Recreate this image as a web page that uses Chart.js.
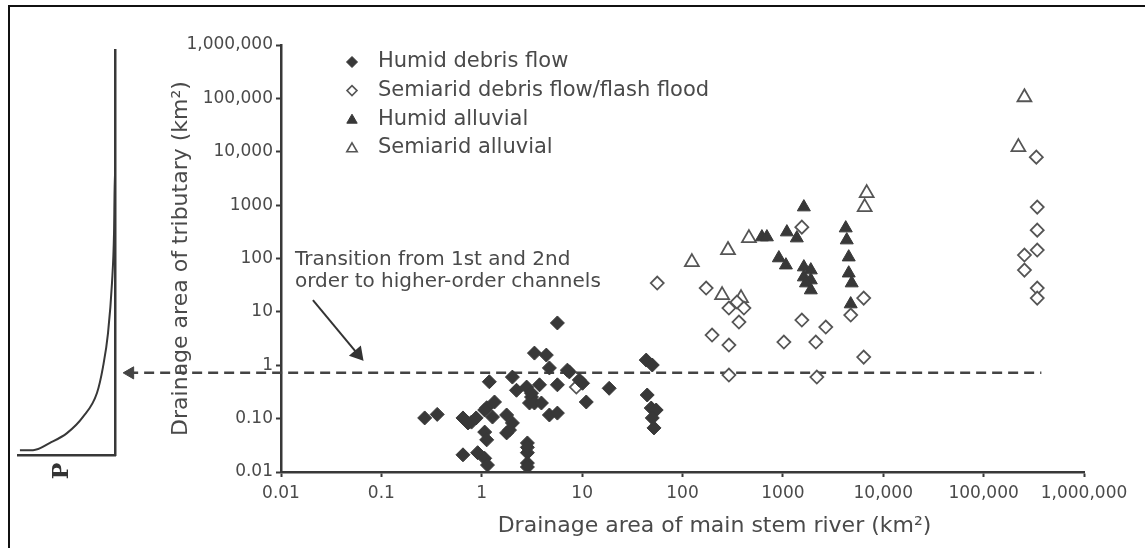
<!DOCTYPE html>
<html><head><meta charset="utf-8">
<script src="https://cdn.jsdelivr.net/npm/chart.js@4.4.1/dist/chart.umd.min.js"></script>
<style>
html,body{margin:0;padding:0;background:#fff;}
#wrap{position:relative;width:1145px;height:548px;overflow:hidden;background:#fff;}
#main,#inset{position:absolute;left:0;top:0;}
#frame{position:absolute;left:8px;top:5px;width:1160px;height:560px;border-left:2px solid #111;border-top:2px solid #111;pointer-events:none;}
</style></head><body>
<div id="wrap">
<canvas id="main" width="1145" height="548"></canvas>
<canvas id="inset" width="140" height="548"></canvas>
<div id="frame"></div>
</div>
<script>
// ---------- data ----------
const seriesNames = ['Humid debris flow', 'Semiarid debris flow/flash flood', 'Humid alluvial', 'Semiarid alluvial'];

const humidDebrisX = [0.27,0.36,0.65,0.73,0.79,0.88,1.19,1.12,1.07,1.34,1.28,1.07,1.12,0.65,0.91,1.07,1.14,1.77,2.02,1.77,1.89,2.02,2.22,2.8,3.13,3.13,3.35,3.93,3.76,2.99,2.85,2.85,2.85,2.85,2.85,3.35,4.4,4.72,5.67,5.67,4.72,5.67,7.46,7.13,9.38,10.1,11.0,18.6,43.5,50,44.5,48.8,54.7,50,52];
const humidDebrisY = [0.103,0.12,0.103,0.083,0.086,0.103,0.49,0.16,0.145,0.205,0.107,0.056,0.04,0.021,0.023,0.018,0.0135,0.117,0.083,0.054,0.061,0.60,0.34,0.39,0.254,0.30,0.196,0.196,0.43,0.196,0.035,0.023,0.0147,0.0124,0.029,1.69,1.55,0.89,6.2,0.43,0.117,0.127,0.75,0.81,0.53,0.46,0.205,0.37,1.25,1.01,0.277,0.158,0.145,0.103,0.067];

const semiDebrisX = [56,172,197,290,349,409,365,290,290,1545,1545,1023,2128,2675,2178,4742,6385,6385,8.76,335000,342000,342000,342000,255000,255000,342000,342000];
const semiDebrisY = [34.6,27.9,3.68,11.8,15.3,11.8,6.44,2.39,0.655,387,7.02,2.72,2.72,5.19,0.60,8.71,18.1,1.42,0.39,7930,918,340,144,116,60.6,27.9,18.1];

const humidAlluvialX = [618,693,1096,1377,1618,912,1072,1618,1898,1618,1898,1700,1898,4230,4330,4530,4530,4850,4740];
const humidAlluvialY = [252,252,312,241,918,102,75,69,60.6,44.8,39.4,34.6,25.6,371,221,106,53,34.6,14];

const semiAlluvialX = [124,284,459,248,383,6840,6530,255000,222000];
const semiAlluvialY = [85.6,144,241,20.6,18.1,1680,918,105000,12200];

// transition line (dashed) and annotation arrow, in data units
const transitionX = [0.0003, 376000];
const transitionY = [0.72, 0.72];
const arrowX = [0.0208, 0.0582];
const arrowY = [16.6, 1.62];
const noteLines = ['Transition from 1st and 2nd', 'order to higher-order channels'];

// tick values / labels
const xTickValues = [0.01,0.1,1,10,100,1000,10000,100000,1000000];
const xTickLabels = ['0.01','0.1','1','10','100','1000','10,000','100,000','1,000,000'];
const yTickValues = [0.01,0.1,1,10,100,1000,10000,100000,1000000];
const yTickLabels = ['0.01','0.10','1','10','100','1000','10,000','100,000','1,000,000'];
const xTitle = 'Drainage area of main stem river (km²)';
const yTitle = 'Drainage area of tributary (km²)';

// inset schematic curve (P vs relative position)
const insetP     = [0.02,0.155,0.33,0.505,0.67,0.814,0.876,0.928,0.969,0.99,1.0,1.0];
const insetLevel = [0.012,0.012,0.03,0.054,0.094,0.153,0.217,0.301,0.425,0.548,0.711,1.0];
const insetLabel = 'P';

// ---------- styling ----------
const FONT = '"DejaVu Sans", "Liberation Sans", sans-serif';
const TEXT = '#4a4a4a';
const INK = '#383838';
const zip = (xs, ys) => xs.map((x, i) => ({x: x, y: ys[i]}));

const legendPlugin = {
  id: 'customLegend',
  afterDraw(chart) {
    const ctx = chart.ctx;
    const specs = [
      {style:'rectRot', r:5.5, fill:INK, stroke:INK, bw:1},
      {style:'rectRot', r:5, fill:'#fff', stroke:'#555', bw:1.6},
      {style:'triangle', r:6, fill:INK, stroke:INK, bw:1},
      {style:'triangle', r:6, fill:'#fff', stroke:'#555', bw:1.6}
    ];
    ctx.save();
    seriesNames.forEach((name, i) => {
      const y = 62 + i * 28.6;
      const s = specs[i];
      ctx.fillStyle = s.fill; ctx.strokeStyle = s.stroke; ctx.lineWidth = s.bw;
      Chart.helpers.drawPoint(ctx, {pointStyle: s.style, radius: s.r, rotation: 0, borderWidth: s.bw}, 352, y + (s.style === 'triangle' ? 1 : 0));
      ctx.fillStyle = TEXT;
      ctx.font = '21px ' + FONT;
      ctx.textAlign = 'left'; ctx.textBaseline = 'middle';
      ctx.fillText(name, 378, y);
    });
    ctx.restore();
  }
};

const notePlugin = {
  id: 'notes',
  afterDatasetsDraw(chart) {
    const ctx = chart.ctx;
    const xs = chart.scales.x, ys = chart.scales.y, area = chart.chartArea;
    ctx.save();
    // arrowhead at left end of transition line
    const meta = chart.getDatasetMeta(4);
    const p0 = meta.data[0];
    ctx.fillStyle = '#444'; ctx.strokeStyle = '#444'; ctx.lineWidth = 1;
    Chart.helpers.drawPoint(ctx, {pointStyle:'triangle', radius:7, rotation:-90, borderWidth:1}, p0.x + 2, p0.y);
    // annotation text
    ctx.fillStyle = TEXT;
    ctx.font = '20px ' + FONT;
    ctx.textAlign = 'left'; ctx.textBaseline = 'middle';
    ctx.fillText(noteLines[0], 295, 260);
    ctx.fillText(noteLines[1], 295, 282);
    // x axis title
    ctx.font = '22px ' + FONT;
    ctx.textAlign = 'center';
    ctx.fillText(xTitle, (area.left + area.right) / 2 + 32, 526);
    ctx.restore();
  }
};

new Chart(document.getElementById('main'), {
  type: 'scatter',
  data: {
    datasets: [
      {label: seriesNames[0], data: zip(humidDebrisX, humidDebrisY), pointStyle:'rectRot', pointRadius:7, backgroundColor:INK, borderColor:INK, borderWidth:1, order:1},
      {label: seriesNames[1], data: zip(semiDebrisX, semiDebrisY), pointStyle:'rectRot', pointRadius:6.5, backgroundColor:'#fff', borderColor:'#555', borderWidth:1.8, order:1},
      {label: seriesNames[2], data: zip(humidAlluvialX, humidAlluvialY), pointStyle:'triangle', pointRadius:7.5, backgroundColor:INK, borderColor:INK, borderWidth:1, order:1},
      {label: seriesNames[3], data: zip(semiAlluvialX, semiAlluvialY), pointStyle:'triangle', pointRadius:8, backgroundColor:'#fff', borderColor:'#555', borderWidth:1.8, order:1},
      {label: 'transition', type:'line', data: zip(transitionX, transitionY), borderColor:'#444', borderWidth:2.5, borderDash:[10,6], pointRadius:0, clip:false, order:5},
      {label: 'arrow', type:'line', data: zip(arrowX, arrowY), borderColor:'#333', borderWidth:2, pointRadius:[0,7], pointStyle:'triangle', pointRotation:140, pointBackgroundColor:'#333', pointBorderColor:'#333', clip:false, order:5}
    ]
  },
  options: {
    responsive: false, animation: false, devicePixelRatio: 1,
    layout: {padding: {left:150, right:61, top:45, bottom:9}},
    plugins: {legend: {display:false}, tooltip: {enabled:false}},
    scales: {
      x: {
        type:'logarithmic', min:0.01, max:1000000,
        afterBuildTicks: s => { s.ticks = xTickValues.map(v => ({value: v})); },
        afterFit: s => { s.height = 67; },
        ticks: {callback: (v, i) => xTickLabels[i], autoSkip:false, maxRotation:0, color:TEXT, font:{family:FONT, size:17}, padding:6},
        grid: {drawOnChartArea:false, drawTicks:true, tickLength:5, tickWidth:2, color:INK},
        border: {display:true, color:INK, width:2.5},
        title: {display:false}
      },
      y: {
        type:'logarithmic', min:0.01, max:1000000,
        afterBuildTicks: s => { s.ticks = yTickValues.map(v => ({value: v})); },
        afterFit: s => { s.width = 131; },
        ticks: {callback: (v, i) => yTickLabels[i], autoSkip:false, color:TEXT, font:{family:FONT, size:17}, padding:3},
        grid: {drawOnChartArea:false, drawTicks:true, tickLength:5, tickWidth:2, color:INK},
        border: {display:true, color:INK, width:2.5},
        title: {display:true, text:yTitle, color:TEXT, font:{family:FONT, size:22}, padding:{top:18, bottom:0}}
      }
    }
  },
  plugins: [legendPlugin, notePlugin]
});

const pLabelPlugin = {
  id: 'pLabel',
  afterDraw(chart) {
    const ctx = chart.ctx;
    ctx.save();
    ctx.translate(62, 471);
    ctx.rotate(-Math.PI / 2);
    ctx.fillStyle = '#333';
    ctx.font = 'bold 22px "DejaVu Serif", serif';
    ctx.textAlign = 'center'; ctx.textBaseline = 'middle';
    ctx.fillText(insetLabel, 0, 0);
    ctx.restore();
  }
};

new Chart(document.getElementById('inset'), {
  type: 'scatter',
  data: {datasets: [{type:'line', data: zip(insetP, insetLevel), borderColor:INK, borderWidth:2, pointRadius:0, cubicInterpolationMode:'monotone', clip:false}]},
  options: {
    responsive:false, animation:false, devicePixelRatio:1,
    layout: {padding:{left:18, right:25, top:50, bottom:93}},
    plugins: {legend:{display:false}, tooltip:{enabled:false}},
    scales: {
      x: {type:'linear', min:0, max:1, ticks:{display:false}, grid:{display:false}, border:{display:true, color:INK, width:2.5}, afterFit: s => { s.height = 0; }},
      y: {type:'linear', position:'right', min:0, max:1, ticks:{display:false}, grid:{display:false}, border:{display:true, color:INK, width:2.5}, afterFit: s => { s.width = 0; }}
    }
  },
  plugins: [pLabelPlugin]
});
</script>
</body></html>
